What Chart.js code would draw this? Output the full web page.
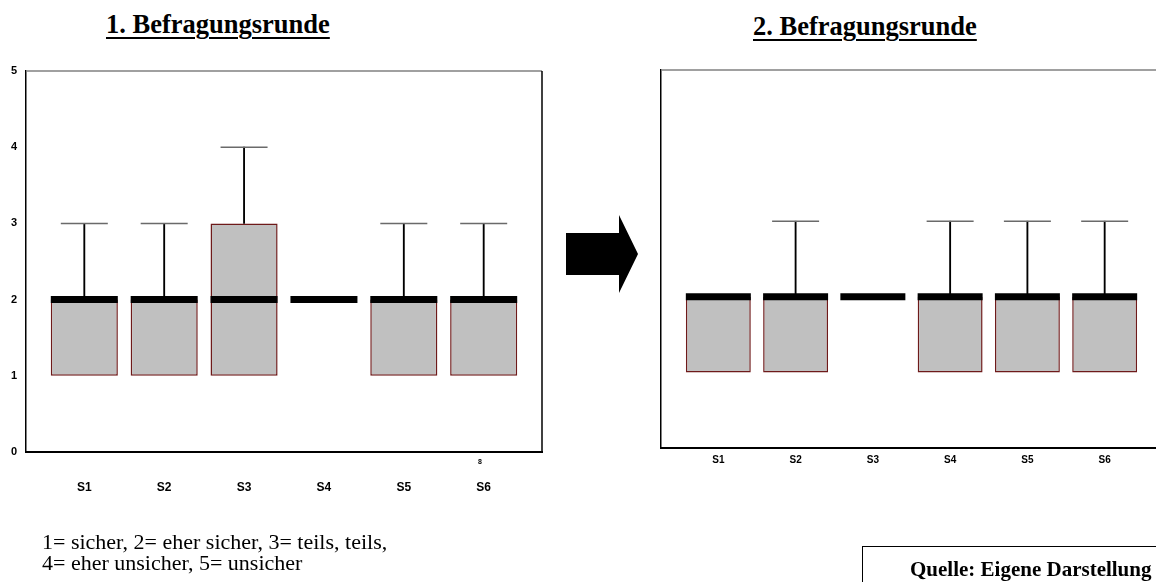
<!DOCTYPE html>
<html>
<head>
<meta charset="utf-8">
<script src="https://cdn.jsdelivr.net/npm/chart.js@4.4.1/dist/chart.umd.min.js"></script>
<style>
  html, body { margin:0; padding:0; width:1156px; height:582px; overflow:hidden; background:#fff; }
  #wrap { position:relative; width:1156px; height:582px; overflow:hidden; }
  canvas { position:absolute; }
  .title { position:absolute; font-family:"Liberation Serif","Times New Roman",serif; font-weight:bold; font-size:26.5px; line-height:normal; text-decoration:underline; text-decoration-thickness:2px; text-underline-offset:4px; color:#000; white-space:nowrap; }
  .note { position:absolute; left:42px; top:531px; font-family:"Liberation Serif","Times New Roman",serif; font-size:22px; line-height:21px; color:#000; white-space:nowrap; }
  .src { position:absolute; left:862px; top:546px; width:320px; height:60px; border:1px solid #000; box-sizing:border-box; font-family:"Liberation Serif","Times New Roman",serif; font-weight:bold; font-size:21px; line-height:normal; color:#000; }
  .src span { position:absolute; left:47px; top:10px; white-space:nowrap; }
  .eight { position:absolute; left:478px; top:458px; font-family:"Liberation Sans",Arial,sans-serif; font-weight:bold; font-size:7px; color:#000; }
</style>
</head>
<body>
<div id="wrap">
  <div class="title" style="left:106px; top:9px;">1. Befragungsrunde</div>
  <div class="title" style="left:753px; top:11px;">2. Befragungsrunde</div>
  <canvas id="c1" width="560" height="500" style="left:0; top:0;"></canvas>
  <canvas id="c2" width="540" height="500" style="left:640px; top:0;"></canvas>
  <svg style="position:absolute; left:0; top:0;" width="1156" height="582">
    <polygon points="566,233 619,233 619,215 638,254 619,293 619,275 566,275" fill="#000"/>
  </svg>
  <div class="eight">8</div>
  <div class="note">1= sicher, 2= eher sicher, 3= teils, teils,<br>4= eher unsicher, 5= unsicher</div>
  <div class="src"><span>Quelle: Eigene Darstellung</span></div>
</div>
<script>
// ---- data ----
const categories = ['S1', 'S2', 'S3', 'S4', 'S5', 'S6'];
const yTicks = [0, 1, 2, 3, 4, 5];

// 1. Befragungsrunde
const r1Q1     = [1, 1, 1, 2, 1, 1];
const r1Median = [2, 2, 2, 2, 2, 2];
const r1Q3     = [2, 2, 3, 2, 2, 2];
const r1Max    = [3, 3, 4, 2, 3, 3];

// 2. Befragungsrunde
const r2Q1     = [1, 1, 2, 1, 1, 1];
const r2Median = [2, 2, 2, 2, 2, 2];
const r2Q3     = [2, 2, 2, 2, 2, 2];
const r2Max    = [2, 3, 2, 3, 3, 3];

const framePlugin = {
  id: 'frame',
  afterDraw(chart, args, opts) {
    const a = chart.chartArea, ctx = chart.ctx;
    ctx.save();
    if (opts.top) {
      ctx.strokeStyle = opts.top; ctx.lineWidth = 1.5;
      ctx.beginPath(); ctx.moveTo(a.left, a.top); ctx.lineTo(opts.topEnd || a.right, a.top); ctx.stroke();
    }
    if (opts.right) {
      ctx.strokeStyle = opts.right; ctx.lineWidth = 1.5;
      ctx.beginPath(); ctx.moveTo(a.right, a.top); ctx.lineTo(a.right, a.bottom); ctx.stroke();
    }
    ctx.restore();
  }
};

function makeChart(id, q1, med, q3, mx, s) {
  const idx = categories.map((c, i) => i);
  const boxData = idx.filter(i => q3[i] > q1[i]).map(i => ({ x: i, y: [q1[i], q3[i]] }));
  const whiskerData = idx.filter(i => mx[i] > q3[i]).map(i => ({ x: i, y: [q3[i], mx[i]] }));
  const capData = idx.filter(i => mx[i] > q3[i]).map(i => ({ x: i, y: mx[i] }));
  const medData = idx.map(i => ({ x: i, y: med[i] }));
  return new Chart(document.getElementById(id), {
    type: 'bar',
    data: {
      datasets: [
        { type: 'bar', data: boxData, backgroundColor: '#c0c0c0', borderColor: '#6e1a1a', borderWidth: 1.5,
          borderSkipped: false, grouped: false, barPercentage: 0.84, categoryPercentage: 1, order: 4 },
        { type: 'bar', data: whiskerData, backgroundColor: '#000', borderWidth: 0, barThickness: 1.2,
          grouped: false, order: 3 },
        { type: 'scatter', data: capData, pointStyle: 'line', radius: 23.5, borderColor: '#6a6a6a',
          borderWidth: 1.5, order: 2 },
        { type: 'scatter', data: medData, pointStyle: 'line', radius: s.medR, borderColor: '#000',
          backgroundColor: '#000', borderWidth: 7, order: 1 }
      ]
    },
    options: {
      responsive: false,
      animation: false,
      devicePixelRatio: 1,
      layout: { autoPadding: false, padding: { top: s.top, right: s.right, left: 0, bottom: 0 } },
      plugins: { legend: { display: false }, tooltip: { enabled: false }, frame: s.frame },
      scales: {
        x: {
          type: 'linear', offset: false, min: -s.pad, max: categories.length - 1 + s.pad,
          afterBuildTicks: sc => { sc.ticks = idx.map(i => ({ value: i })); },
          afterFit: sc => { sc.height = s.xH; sc.paddingLeft = 0; sc.paddingRight = 0; },
          grid: { display: false, drawTicks: false, offset: false },
          border: { color: '#000', width: 2 },
          ticks: { callback: v => categories[v] ?? '', color: '#000', padding: s.xPad, autoSkip: false, maxRotation: 0,
                   font: { family: '"Liberation Sans", Arial, sans-serif', weight: 'bold', size: s.xFont } }
        },
        y: {
          min: 0, max: 5,
          afterBuildTicks: sc => { sc.ticks = yTicks.map(v => ({ value: v })); },
          afterFit: sc => { sc.width = s.yW; sc.paddingTop = 0; sc.paddingBottom = 0; },
          grid: { display: false, drawTicks: false },
          border: { color: '#000', width: 1.5 },
          ticks: { display: s.yLabels, color: '#000', padding: 9,
                   font: { family: '"Liberation Sans", Arial, sans-serif', weight: 'bold', size: 11 } }
        }
      }
    },
    plugins: [framePlugin]
  });
}

makeChart('c1', r1Q1, r1Median, r1Q3, r1Max,
  { top: 71, right: 18, pad: 0.73, xH: 48, xPad: 28, xFont: 12, yW: 26, yLabels: true, medR: 33.5,
    frame: { top: '#808080', right: '#000' } });
makeChart('c2', r2Q1, r2Median, r2Q3, r2Max,
  { top: 70, right: 18, pad: 0.742, xH: 52, xPad: 6, xFont: 10, yW: 21, yLabels: false, medR: 32.5,
    frame: { top: '#808080', topEnd: 540 } });
</script>
</body>
</html>
